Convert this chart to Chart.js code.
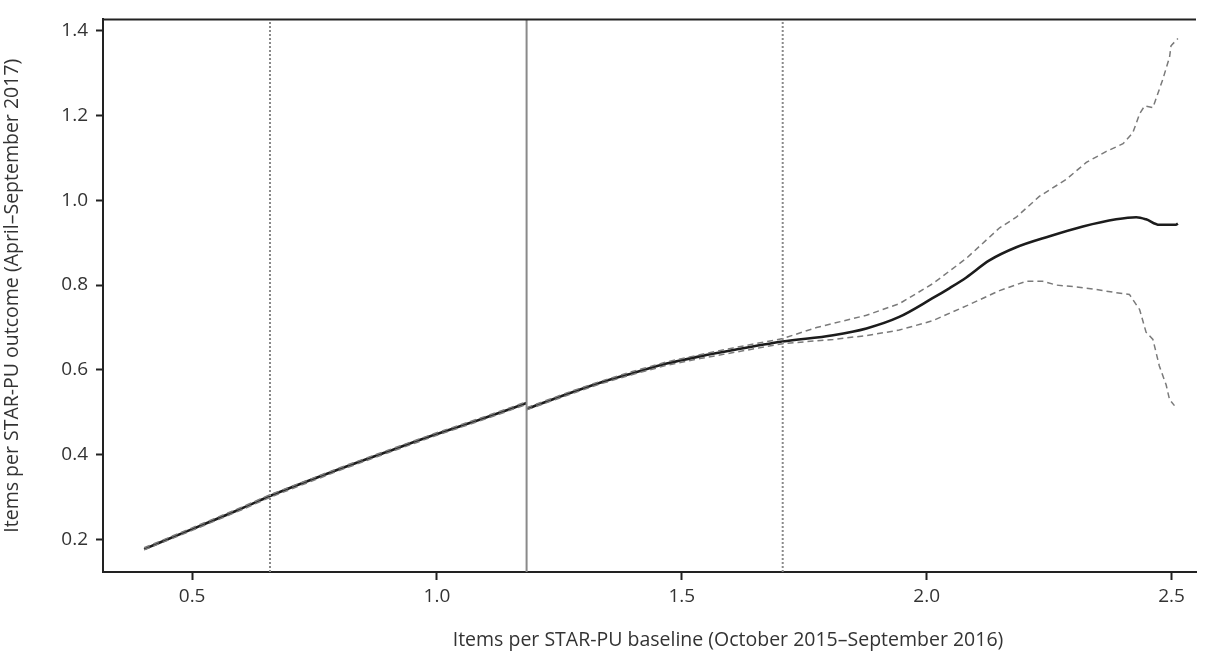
<!DOCTYPE html>
<html>
<head>
<meta charset="utf-8">
<title>Items per STAR-PU</title>
<script src="https://cdn.jsdelivr.net/npm/chart.js@4.4.0/dist/chart.umd.min.js"></script>
<style>
    body { margin: 0; background: #fff; }
    #wrap { width: 1210px; height: 653px; }
</style>
</head>
<body>
<div id="wrap"><canvas id="myChart" width="1210" height="653"></canvas></div>
<script>
// values
const leftX     = [0.402, 0.50, 0.60, 0.659, 0.80, 0.90, 0.992, 1.10, 1.183];
const leftFit   = [0.178, 0.225, 0.273, 0.303, 0.366, 0.408, 0.446, 0.488, 0.522];
const leftUpper = [0.181, 0.228, 0.276, 0.306, 0.369, 0.411, 0.449, 0.491, 0.525];
const leftLower = [0.176, 0.222, 0.270, 0.300, 0.363, 0.405, 0.443, 0.485, 0.519];

const rightX   = [1.183, 1.265, 1.333, 1.401, 1.469, 1.537, 1.605, 1.706, 1.809, 1.877, 1.944, 2.012, 2.047, 2.081, 2.128, 2.183, 2.251, 2.319, 2.387, 2.428, 2.448, 2.475, 2.509, 2.513];
const rightFit = [0.508, 0.543, 0.570, 0.593, 0.615, 0.632, 0.647, 0.667, 0.682, 0.698, 0.725, 0.769, 0.793, 0.818, 0.858, 0.889, 0.915, 0.938, 0.955, 0.960, 0.955, 0.942, 0.942, 0.945];

const upperX = [1.183, 1.265, 1.333, 1.401, 1.469, 1.537, 1.605, 1.706, 1.775, 1.877, 1.944, 2.012, 2.081, 2.149, 2.183, 2.230, 2.285, 2.326, 2.367, 2.401, 2.421, 2.435, 2.445, 2.462, 2.482, 2.496, 2.499, 2.513];
const upperY = [0.511, 0.546, 0.573, 0.597, 0.619, 0.636, 0.652, 0.674, 0.700, 0.729, 0.756, 0.803, 0.863, 0.935, 0.960, 1.009, 1.049, 1.089, 1.115, 1.133, 1.159, 1.204, 1.222, 1.218, 1.284, 1.337, 1.364, 1.381];

const lowerX = [1.183, 1.265, 1.333, 1.401, 1.469, 1.537, 1.605, 1.706, 1.809, 1.877, 1.944, 2.012, 2.081, 2.149, 2.203, 2.237, 2.265, 2.305, 2.339, 2.387, 2.414, 2.435, 2.448, 2.462, 2.475, 2.489, 2.496, 2.506];
const lowerY = [0.506, 0.540, 0.567, 0.590, 0.611, 0.627, 0.641, 0.662, 0.672, 0.681, 0.694, 0.716, 0.751, 0.787, 0.809, 0.809, 0.800, 0.796, 0.791, 0.782, 0.778, 0.742, 0.689, 0.672, 0.610, 0.565, 0.530, 0.516];

// cut points (vertical lines)
const dottedCuts = [0.659, 1.706];
const solidCut = 1.183;

const xTitle = 'Items per STAR-PU baseline (October 2015–September 2016)';
const yTitle = 'Items per STAR-PU outcome (April–September 2017)';
const xRange = [0.318, 2.55];
const yRange = [0.124, 1.426];

const pts = (xs, ys) => xs.map((x, i) => ({ x: x, y: ys[i] }));
const vline = (x) => [{ x: x, y: yRange[0] }, { x: x, y: yRange[1] }];

const fitStyle = { borderColor: '#1c1c1c', borderWidth: 2.6, pointRadius: 0, cubicInterpolationMode: 'monotone', fill: false };
const bandStyle = { borderColor: '#7a7a7a', borderWidth: 1.5, borderDash: [6, 4], pointRadius: 0, tension: 0, fill: false };

const datasets = [];
dottedCuts.forEach(c => datasets.push({ data: vline(c), borderColor: '#8a8a8a', borderWidth: 2, borderDash: [2, 2], pointRadius: 0 }));
datasets.push({ data: vline(solidCut), borderColor: '#8a8a8a', borderWidth: 2, pointRadius: 0 });
datasets.push(Object.assign({ data: pts(leftX, leftUpper) }, bandStyle));
datasets.push(Object.assign({ data: pts(leftX, leftLower) }, bandStyle));
datasets.push(Object.assign({ data: pts(upperX, upperY) }, bandStyle));
datasets.push(Object.assign({ data: pts(lowerX, lowerY) }, bandStyle));
datasets.push(Object.assign({ data: pts(leftX, leftFit) }, fitStyle));
datasets.push(Object.assign({ data: pts(rightX, rightFit) }, fitStyle));

// top frame line + x title (sits right of centre in the original)
const frameAndTitle = {
    id: 'frameAndTitle',
    afterDraw(chart) {
        const a = chart.chartArea;
        const c = chart.ctx;
        c.save();
        c.strokeStyle = '#222';
        c.lineWidth = 2;
        c.beginPath();
        c.moveTo(a.left - 1, a.top);
        c.lineTo(a.right, a.top);
        c.stroke();
        c.fillStyle = '#333';
        c.font = '19.5px "Open Sans"';
        c.textAlign = 'center';
        c.textBaseline = 'middle';
        c.fillText(xTitle, 728, 640);
        c.restore();
    }
};

const tickFont = { family: 'Open Sans', size: 19 };
const titleFont = { family: 'Open Sans', size: 19.5 };

new Chart(document.getElementById('myChart').getContext('2d'), {
    type: 'line',
    data: { datasets: datasets },
    options: {
        responsive: false,
        animation: false,
        layout: { padding: { top: 12, right: 14, left: 0, bottom: 0 } },
        plugins: { legend: { display: false }, tooltip: { enabled: false } },
        scales: {
            x: {
                type: 'linear',
                min: xRange[0],
                max: xRange[1],
                afterFit: (s) => { s.height = 81; },
                grid: { drawOnChartArea: false, drawTicks: true, tickLength: 8, tickWidth: 2, tickColor: '#222' },
                border: { display: true, color: '#222', width: 2 },
                ticks: { stepSize: 0.5, includeBounds: false, color: '#333', font: tickFont, padding: 5,
                         callback: (v) => v.toFixed(1) },
                title: { display: false, text: xTitle }
            },
            y: {
                type: 'linear',
                min: yRange[0],
                max: yRange[1],
                afterFit: (s) => { s.width = 103; },
                grid: { drawOnChartArea: false, drawTicks: true, tickLength: 7, tickWidth: 2, tickColor: '#222' },
                border: { display: true, color: '#222', width: 2 },
                ticks: { stepSize: 0.2, includeBounds: false, color: '#333', font: tickFont, padding: 8,
                         callback: (v) => v.toFixed(1) },
                title: { display: true, text: yTitle, color: '#333', font: titleFont, padding: 1 }
            }
        }
    },
    plugins: [frameAndTitle]
});
</script>
</body>
</html>
